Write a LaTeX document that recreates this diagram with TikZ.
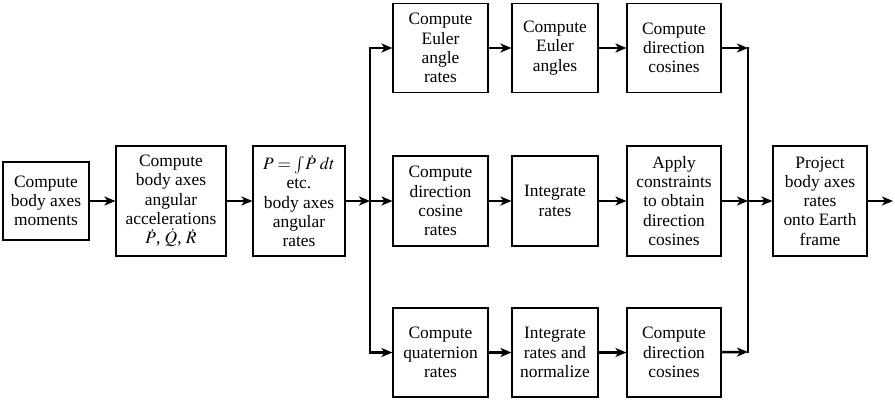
\documentclass[tikz,border=0pt]{standalone}
\usepackage{mathptmx}
\usepackage[no-math]{fontspec}
\setmainfont{Liberation Serif}
\usetikzlibrary{arrows.meta}
\begin{document}
\begin{tikzpicture}[x=1pt,y=-1pt,
  box/.style={draw, line width=1.1pt, align=center, inner sep=1pt,
    font=\fontsize{17.4}{19.3}\selectfont},
  conn/.style={line width=2.5pt, -{Stealth[length=11pt,width=9pt,inset=3pt]}},
  bus/.style={line width=2.5pt, line cap=rect}]
\useasboundingbox (0,0) rectangle (895,400);
% left chain
\node[box, minimum width=86pt, minimum height=78pt] (b1) at (46,201) {Compute\\body axes\\moments};
\node[box, minimum width=110pt, minimum height=110pt] (b2) at (171,201) {Compute\\body axes\\angular\\accelerations\\$\dot P$, $\dot Q$, $\dot R$};
\node[box, minimum width=92pt, minimum height=110pt] (b3) at (299,201) {$P=\int\!\dot P\;dt$\\etc.\\body axes\\angular\\rates};
% buses
\coordinate (L) at (370,201);
\coordinate (R) at (748,201);
\coordinate (Rtop) at (748,48);
\coordinate (Rbot) at (748,352);
\coordinate (out) at (893,201);
% top row
\node[box, minimum width=95pt, minimum height=89pt] (t1) at (440.5,48) {Compute\\Euler\\angle\\rates};
\node[box, minimum width=86pt, minimum height=89pt] (t2) at (555,48) {Compute\\Euler\\angles};
\node[box, minimum width=94pt, minimum height=89pt] (t3) at (674,48) {Compute\\direction\\cosines};
% middle row
\node[box, minimum width=95pt, minimum height=90pt] (m1) at (440.5,201) {Compute\\direction\\cosine\\rates};
\node[box, minimum width=86pt, minimum height=90pt] (m2) at (555,201) {Integrate\\rates};
\node[box, minimum width=94pt, minimum height=110pt] (m3) at (674,201) {Apply\\constraints\\to obtain\\direction\\cosines};
% bottom row
\node[box, minimum width=95pt, minimum height=89pt] (q1) at (440.5,352.5) {Compute\\quaternion\\rates};
\node[box, minimum width=86pt, minimum height=89pt] (q2) at (555,352.5) {Integrate\\rates and\\normalize};
\node[box, minimum width=94pt, minimum height=89pt] (q3) at (674,352.5) {Compute\\direction\\cosines};
% final
\node[box, minimum width=94pt, minimum height=110pt] (f) at (820,201) {Project\\body axes\\rates\\onto Earth\\frame};
% connectors
\draw[conn] (b1) -- (b2);
\draw[conn] (b2) -- (b3);
\draw[conn] (b3) -- (L);
\draw[conn] (L) |- (t1);
\draw[conn] (L) |- (q1);
\draw[conn] (L) -- (m1);
\draw[conn] (t1) -- (t2);
\draw[conn] (t2) -- (t3);
\draw[conn] (m1) -- (m2);
\draw[conn] (m2) -- (m3);
\draw[conn] (q1) -- (q2);
\draw[conn] (q2) -- (q3);
\draw[bus] (Rtop) -- (Rbot);
\draw[conn] (t3) -- (Rtop);
\draw[conn] (m3) -- (R);
\draw[conn] (q3) -- (Rbot);
\draw[conn] (R) -- (f);
\draw[conn] (f) -- (out);
\end{tikzpicture}
\end{document}
